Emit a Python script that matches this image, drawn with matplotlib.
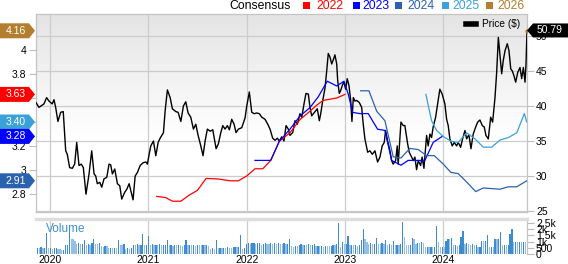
import numpy as np
import matplotlib
matplotlib.use("Agg")
import matplotlib.pyplot as plt
import matplotlib.dates as mdates
from matplotlib.patches import Polygon, Rectangle
from matplotlib.lines import Line2D
from datetime import datetime
import pandas as pd

plt.rcParams['font.family'] = ['Liberation Sans', 'DejaVu Sans']

# ---------------- data (dates as decimal years) ----------------
price_t = [2019.858, 2019.888, 2019.939, 2019.966, 2019.990, 2020.023, 2020.041, 2020.058, 2020.081, 2020.109,
           2020.135, 2020.160, 2020.176, 2020.200, 2020.227, 2020.251, 2020.272, 2020.295, 2020.318, 2020.339,
           2020.366, 2020.397, 2020.424, 2020.448, 2020.465, 2020.481, 2020.506, 2020.526, 2020.549, 2020.577,
           2020.600, 2020.617, 2020.634, 2020.658, 2020.685, 2020.709, 2020.729, 2020.760, 2020.780, 2020.804,
           2020.821, 2020.844, 2020.865, 2020.888, 2020.916, 2020.946, 2020.974, 2020.990, 2021.007, 2021.024,
           2021.051, 2021.075, 2021.099, 2021.119, 2021.153, 2021.170, 2021.193, 2021.221, 2021.244, 2021.279,
           2021.302, 2021.330, 2021.356, 2021.380, 2021.404, 2021.431, 2021.458, 2021.482, 2021.506, 2021.533,
           2021.556, 2021.577, 2021.600, 2021.628, 2021.655, 2021.689, 2021.712, 2021.737, 2021.757, 2021.780,
           2021.804, 2021.824, 2021.848, 2021.872, 2021.892, 2021.916, 2021.950, 2021.984, 2022.001, 2022.027,
           2022.052, 2022.078, 2022.103, 2022.129, 2022.154, 2022.187, 2022.215, 2022.238, 2022.265, 2022.289,
           2022.312, 2022.333, 2022.357, 2022.380, 2022.401, 2022.424, 2022.441, 2022.469, 2022.492, 2022.516,
           2022.543, 2022.561, 2022.584, 2022.604, 2022.628, 2022.645, 2022.662, 2022.679, 2022.696, 2022.719,
           2022.740, 2022.754, 2022.774, 2022.798, 2022.815, 2022.831, 2022.848, 2022.866, 2022.882, 2022.899,
           2022.917, 2022.927, 2022.943, 2022.957, 2022.978, 2022.991, 2023.008, 2023.024, 2023.042, 2023.059,
           2023.072, 2023.086, 2023.103, 2023.120, 2023.147, 2023.171, 2023.187, 2023.204, 2023.232, 2023.255,
           2023.279, 2023.306, 2023.333, 2023.357, 2023.380, 2023.401, 2023.415, 2023.435, 2023.459, 2023.476,
           2023.492, 2023.517, 2023.533, 2023.543, 2023.571, 2023.594, 2023.611, 2023.639, 2023.655, 2023.680,
           2023.696, 2023.713, 2023.730, 2023.747, 2023.771, 2023.787, 2023.805, 2023.832, 2023.848, 2023.866,
           2023.883, 2023.899, 2023.924, 2023.944, 2023.967, 2023.991, 2024.018, 2024.036, 2024.052, 2024.069,
           2024.093, 2024.113, 2024.137, 2024.154, 2024.178, 2024.198, 2024.222, 2024.239, 2024.262, 2024.283,
           2024.306, 2024.331, 2024.351, 2024.374, 2024.398, 2024.418, 2024.435, 2024.459, 2024.483, 2024.503,
           2024.527, 2024.544, 2024.561, 2024.578, 2024.595, 2024.611, 2024.629, 2024.652, 2024.669, 2024.687,
           2024.703, 2024.720, 2024.737, 2024.758, 2024.781, 2024.798, 2024.815, 2024.832, 2024.842, 2024.852]
price_v = [40.5, 39.8, 40.3, 41.2, 40.7, 40.3, 40.9, 39.8, 37.8, 39.1,
           39.2, 33.6, 33.1, 31.2, 31.1, 31.7, 34.8, 31.5, 31.7, 31.2,
           27.4, 30.3, 33.6, 30.3, 30.0, 28.9, 29.1, 28.4, 29.6, 29.8,
           31.7, 31.6, 30.3, 31.0, 28.9, 28.6, 26.7, 27.7, 28.1, 28.9,
           27.9, 26.6, 30.0, 30.5, 31.5, 31.9, 32.0, 31.7, 33.1, 34.3,
           35.0, 32.9, 34.8, 35.4, 36.2, 39.3, 42.3, 41.2, 39.6, 39.2,
           39.1, 37.8, 40.0, 40.6, 39.0, 38.4, 36.7, 37.4, 35.8, 34.3,
           32.9, 35.0, 36.7, 36.4, 36.6, 33.9, 34.6, 36.2, 37.2, 36.7,
           37.2, 36.6, 38.1, 37.4, 36.2, 36.7, 36.9, 38.3, 40.0, 42.0,
           39.1, 38.9, 39.0, 38.9, 38.4, 38.1, 37.4, 36.7, 35.4, 35.1,
           35.4, 35.0, 35.6, 35.0, 37.2, 36.7, 35.8, 36.2, 37.9, 37.4,
           38.9, 38.4, 40.3, 41.8, 41.7, 39.8, 38.6, 38.9, 39.2, 39.6,
           37.9, 38.9, 40.7, 42.6, 45.0, 47.5, 47.0, 46.0, 46.6, 47.3,
           46.0, 43.6, 41.8, 42.2, 43.1, 43.4, 42.4, 43.9, 42.9, 40.8,
           37.8, 41.2, 40.7, 40.8, 40.5, 39.8, 37.4, 35.3, 33.4, 33.6,
           33.1, 33.6, 32.0, 32.7, 34.3, 34.8, 36.5, 35.0, 33.6, 32.2,
           31.7, 32.2, 34.3, 31.7, 37.7, 37.2, 37.2, 34.6, 33.4, 32.7,
           32.2, 32.7, 30.9, 32.2, 31.5, 32.7, 31.1, 35.8, 34.3, 36.0,
           35.5, 37.0, 38.4, 40.3, 42.4, 41.7, 40.3, 38.1, 37.2, 35.3,
           34.3, 34.8, 34.3, 34.8, 34.1, 35.3, 36.5, 35.3, 35.9, 33.9,
           36.0, 37.0, 37.7, 38.0, 37.2, 37.0, 35.8, 35.3, 38.4, 37.7,
           41.2, 44.8, 49.8, 47.2, 44.6, 46.5, 47.9, 48.9, 47.9, 45.3,
           45.0, 44.3, 43.4, 44.8, 45.5, 43.9, 45.5, 43.4, 46.0, 50.79]

eps22_t = [2021.085, 2021.177, 2021.244, 2021.330, 2021.414, 2021.498, 2021.526, 2021.587, 2021.712, 2021.831,
           2021.916, 2022.001, 2022.085, 2022.164, 2022.245, 2022.333, 2022.441, 2022.543, 2022.645, 2022.713,
           2022.780, 2022.848, 2022.917, 2023.001]
eps22_v = [2.78, 2.77, 2.74, 2.74, 2.79, 2.83, 2.86, 2.93, 2.925, 2.91,
           2.91, 2.95, 3.01, 3.01, 3.08, 3.24, 3.31, 3.42, 3.49, 3.54,
           3.58, 3.59, 3.60, 3.63]

eps23_t = [2022.085, 2022.245, 2022.333, 2022.441, 2022.543, 2022.645, 2022.729, 2022.821, 2022.917, 2022.991,
           2023.035, 2023.079, 2023.154, 2023.238, 2023.333, 2023.408, 2023.476, 2023.571, 2023.645, 2023.730,
           2023.815, 2023.899, 2023.991]
eps23_v = [3.08, 3.08, 3.24, 3.34, 3.45, 3.52, 3.61, 3.74, 3.70, 3.74,
           3.63, 3.48, 3.47, 3.47, 3.34, 3.33, 3.08, 3.04, 3.08, 3.08,
           3.08, 3.23, 3.28]

eps24_t = [2023.161, 2023.245, 2023.324, 2023.408, 2023.492, 2023.571, 2023.662, 2023.747, 2023.832, 2023.909,
           2024.001, 2024.079, 2024.154, 2024.239, 2024.331, 2024.408, 2024.578, 2024.662, 2024.748, 2024.849]
eps24_v = [3.66, 3.66, 3.49, 3.41, 3.11, 3.10, 3.18, 3.17, 3.12, 3.12,
           3.05, 2.98, 2.97, 2.90, 2.82, 2.85, 2.84, 2.86, 2.86, 2.91]

eps25_t = [2023.825, 2023.883, 2023.934, 2024.001, 2024.079, 2024.154, 2024.239, 2024.323, 2024.408, 2024.493,
           2024.578, 2024.662, 2024.748, 2024.825, 2024.849]
eps25_v = [3.63, 3.41, 3.33, 3.28, 3.24, 3.23, 3.31, 3.26, 3.19, 3.19,
           3.25, 3.27, 3.31, 3.47, 3.40]

eps26_t = [2024.849]
eps26_v = [4.16]

vol_start = "2019-11-08"
vol_v = [480, 520, 500, 540, 470, 510, 1670, 450, 470, 430, 460, 480, 440, 420, 310, 330,
         750, 760, 1740, 1220, 1200, 1040, 830, 860, 800, 840, 1090, 750, 780, 740, 885, 1220,
         830, 800, 850, 625, 600, 650, 610, 500, 520, 480, 510, 490, 1150, 750, 720, 770,
         440, 460, 420, 450, 750, 730, 780, 740, 760, 1615, 700, 750, 1480,
         750, 770, 730, 760, 740, 780, 720, 750, 760, 1090,
         700, 720, 680, 710, 690, 730, 700, 680, 700, 1090,
         700, 720, 690, 710, 680, 730, 700, 690, 720, 700, 710, 680,
         440, 460, 430, 1150, 500, 520, 480, 510, 490, 530, 500, 480,
         570, 590, 560, 580, 1560, 440, 460,
         830, 900, 780, 860, 920, 800, 850, 880, 760, 830, 900, 820, 790, 870, 840, 910, 800, 850, 830, 780, 860, 820, 840,
         1170, 625, 600, 650, 610, 750, 770, 730, 760, 740, 780, 720, 750, 830,
         625, 640, 610, 630, 600, 650, 620, 610, 640, 750, 730, 770, 2500, 570, 960, 780, 790, 1480,
         700, 720, 690, 710, 680, 700, 1150, 2000, 1220, 960, 830, 850, 810, 840, 1280,
         830, 810, 850, 820, 1090, 750, 770, 730, 1015, 750, 760, 740, 770, 2580, 1350,
         750, 730, 760, 1300, 1220, 830, 910, 890, 930, 900,
         570, 590, 560, 580, 550, 570, 2270, 960, 570, 590, 560, 1040, 1220, 1180, 1250,
         700, 720, 680, 710, 1350, 1820, 830, 850, 810, 750, 770, 730, 760, 570, 590,
         1040, 1010, 1060, 1540, 570, 590, 560, 1220, 1200, 1240, 1740,
         700, 720, 690, 710, 1615, 2000, 960, 980, 940, 970, 950, 990, 960]

price_ticks = [25, 30, 35, 40, 45, 50]
eps_ticks = [2.8, 3.0, 3.2, 3.4, 3.6, 3.8, 4.0]
eps_tick_labels = ["2.8", "3", "3.2", "", "", "3.8", "4"]   # 3.4 / 3.6 hidden under value tags
vol_ticks = [0, 500, 1000, 1500, 2000, 2500]
vol_tick_labels = ["0", "500", "1k", "1.5k", "2k", "2.5k"]
year_ticks = ["2020-01-01", "2021-01-01", "2022-01-01", "2023-01-01", "2024-01-01"]
legend_years = ["2022", "2023", "2024", "2025", "2026"]
last_price_label = "50.79"
eps_labels = ["4.16", "3.63", "3.40", "3.28", "2.91"]

C22, C23, C24, C25, C26 = "#ff0000", "#0000ff", "#2a62b0", "#3aa2d8", "#b37e2e"


def to_date(t):
    y = int(np.floor(t))
    a, b = datetime(y, 1, 1), datetime(y + 1, 1, 1)
    return a + (b - a) * (t - y)


def dates(ts):
    return [to_date(t) for t in ts]


W, H = 568, 264
fig = plt.figure(figsize=(W / 100, H / 100), dpi=100)
fig.patch.set_facecolor("white")


def fx(px):
    return px / W


def fy(py):
    return 1 - py / H


L, R, T, B = 36, 527, 14, 212
pos_main = [fx(L), fy(B), fx(R) - fx(L), fy(T) - fy(B)]
xlim = (to_date(2019.858), to_date(2024.852))

# gradient background
bg = fig.add_axes(pos_main, zorder=0)
grad = np.linspace(0, 1, 200)
vals = np.clip(grad / 0.62, 0, 1)
top_c = np.array([0.894, 0.894, 0.894])
img = top_c[None, :] + (1 - top_c)[None, :] * vals[:, None]
img = np.repeat(img[:, None, :], 2, axis=1)
bg.imshow(img, aspect="auto", extent=(0, 1, 0, 1))
bg.axis("off")

# price axes (grid, right ticks)
ax = fig.add_axes(pos_main, zorder=1)
ax.patch.set_visible(False)
ax.plot(dates(price_t), price_v, color="black", lw=1.0, zorder=3)
ax.set_xlim(*xlim)
ax.set_ylim(24.86, 53.14)
ax.yaxis.tick_right()
ax.set_yticks(price_ticks)
ax.set_yticklabels([str(v) for v in price_ticks])
ax.tick_params(axis="y", length=5, width=0.8, color="#bbbbbb", labelsize=7.5, pad=1.5)
ax.set_xticks([pd.Timestamp(d) for d in year_ticks])
ax.tick_params(axis="x", length=0, labelbottom=False)
ax.grid(True, color="#cccccc", lw=0.9)
ax.set_axisbelow(True)
for s in ax.spines.values():
    s.set_color("#c4c4c4")
    s.set_linewidth(0.9)

leg = ax.legend([Line2D([0], [0], color="black", lw=4)], ["Price ($)"], loc="upper right",
                bbox_to_anchor=(1.0, 1.01), frameon=False, fontsize=7.3, handlelength=1.0,
                handletextpad=0.6, borderaxespad=0.3)

# EPS axes (left ticks)
ax2 = fig.add_axes(pos_main, zorder=2, sharex=ax)
ax2.patch.set_visible(False)
ax2.set_ylim(2.65, 4.30)
for t, v, c in [(eps22_t, eps22_v, C22), (eps23_t, eps23_v, C23), (eps24_t, eps24_v, C24),
                (eps25_t, eps25_v, C25)]:
    ax2.plot(dates(t), v, color=c, lw=0.9)
ax2.plot(dates(eps26_t), eps26_v, "o", color=C26, ms=2)
ax2.yaxis.tick_left()
ax2.set_yticks(eps_ticks)
ax2.set_yticklabels(eps_tick_labels)
ax2.tick_params(axis="y", length=5, width=0.8, color="#bbbbbb", labelsize=7.5, pad=2)
ax2.tick_params(axis="x", length=0, labelbottom=False)
for s in ax2.spines.values():
    s.set_visible(False)

# volume axes
VT, VB = 219, 254
axv = fig.add_axes([fx(L), fy(VB), fx(R) - fx(L), fy(VT) - fy(VB)], zorder=1)
vdates = pd.date_range(vol_start, periods=len(vol_v), freq="7D")
vcols = ["#3f8bd0" if (i > 0 and vol_v[i] > vol_v[i - 1]) else "#94c0e8" for i in range(len(vol_v))]
axv.bar(vdates, vol_v, width=4.6, color=vcols, zorder=2)
axv.set_xlim(*xlim)
axv.set_ylim(0, 2800)
axv.yaxis.tick_right()
axv.set_yticks(vol_ticks)
axv.set_yticklabels(vol_tick_labels)
axv.tick_params(axis="y", length=5, width=0.8, color="#bbbbbb", labelsize=7.5, pad=1.5)
axv.set_xticks([pd.Timestamp(d) for d in year_ticks])
axv.xaxis.set_major_formatter(mdates.DateFormatter("%Y"))
axv.tick_params(axis="x", length=0, labelsize=7.5, pad=0.5)
axv.grid(True, axis="x", color="#cccccc", lw=0.9)
axv.set_axisbelow(True)
for k, s in axv.spines.items():
    s.set_color("#c4c4c4")
    s.set_linewidth(0.9)
axv.spines["left"].set_visible(False)
axv.spines["bottom"].set_visible(False)
axv.spines["top"].set_color("#dddddd")
axv.spines["top"].set_linewidth(2.5)
axv.text(0.02, 0.88, "Volume", transform=axv.transAxes, color="#3f8fd0", fontsize=8.5,
         va="top", ha="left")

# top legend
fig.text(fx(229), fy(6), "Consensus", fontsize=8.8, va="center", ha="left", color="black")
leg_pos = [(303, 316), (353, 362), (395, 407), (442, 452), (486, 497)]
for (sx, tx), lab, c in zip(leg_pos, legend_years, [C22, C23, C24, C25, C26]):
    fig.patches.append(Rectangle((fx(sx), fy(9)), fx(7), 7 / H, transform=fig.transFigure,
                                 facecolor=c, edgecolor="none"))
    fig.text(fx(tx), fy(6), lab, fontsize=8.8, va="center", ha="left", color=c)

# value labels on the left (EPS) and right (price)
inv = fig.transFigure.inverted()
last_d = mdates.date2num(to_date(eps25_t[-1]))
left_vals = [eps26_v[-1], eps22_v[-1], eps25_v[-1], eps23_v[-1], eps24_v[-1]]
for lab, v, c in zip(eps_labels, left_vals, [C26, C22, C25, C23, C24]):
    yc = inv.transform(ax2.transData.transform((last_d, v)))[1]
    h = 7.5 / H
    poly = Polygon([(0, yc - h), (fx(29), yc - h), (fx(35), yc), (fx(29), yc + h), (0, yc + h)],
                   closed=True, transform=fig.transFigure, facecolor=c, edgecolor="none", zorder=5)
    fig.patches.append(poly)
    fig.text(fx(16), yc, lab, fontsize=7.5, color="white", ha="center", va="center", zorder=6)

yc = inv.transform(ax.transData.transform((mdates.date2num(to_date(price_t[-1])), price_v[-1])))[1]
h = 7 / H
poly = Polygon([(fx(527), yc), (fx(533), yc - h), (1, yc - h), (1, yc + h), (fx(533), yc + h)],
               closed=True, transform=fig.transFigure, facecolor="black", edgecolor="none", zorder=5)
fig.patches.append(poly)
fig.text(fx(550), yc, last_price_label, fontsize=7.5, color="white", ha="center", va="center", zorder=6)

fig.savefig("out.png", dpi=100)
